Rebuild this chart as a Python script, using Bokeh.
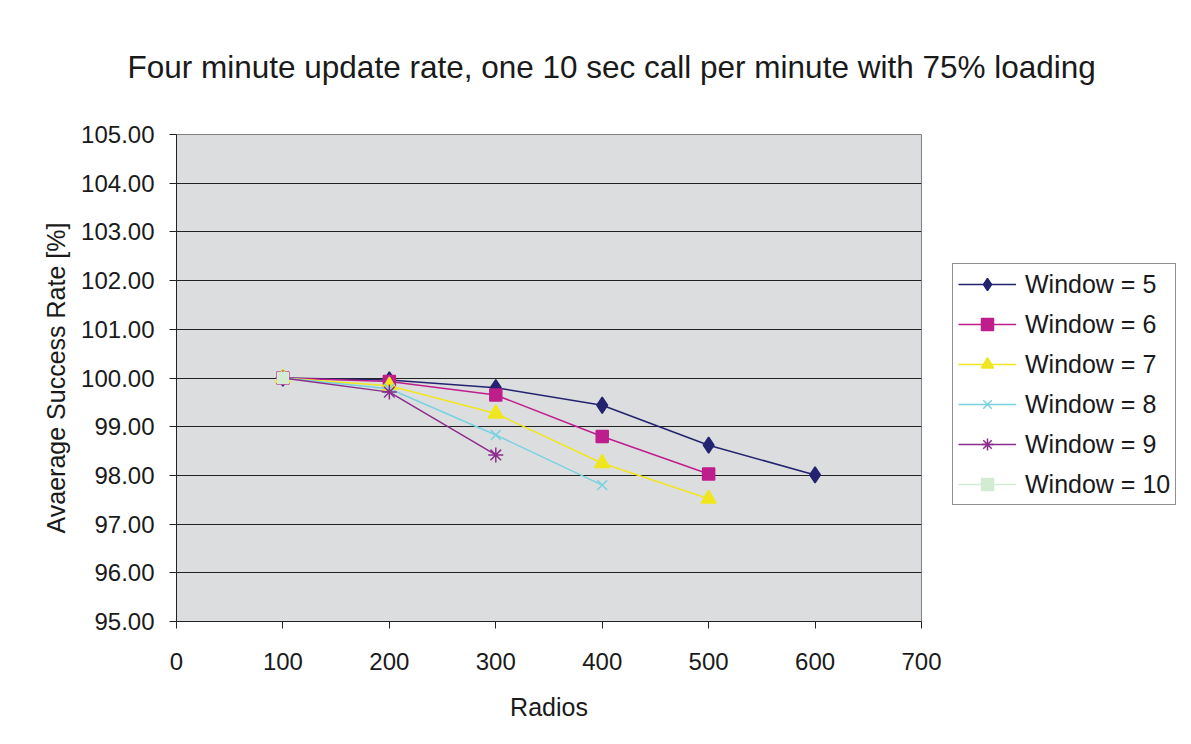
from bokeh.plotting import figure
from bokeh.embed import file_html
from bokeh.resources import INLINE
from bokeh.models import Legend, LegendItem, FixedTicker, NumeralTickFormatter, Range1d, Title
from bokeh.core.properties import value

radios = [100, 200, 300, 400, 500, 600]
window_5 = [100.00, 99.96, 99.80, 99.44, 98.62, 98.01]
window_6 = [100.00, 99.93, 99.65, 98.80, 98.03]
window_7 = [100.00, 99.84, 99.27, 98.25, 97.52]
window_8 = [100.00, 99.78, 98.83, 97.80]
window_9 = [100.00, 99.71, 98.42]
window_10 = [100.00]
series_names = ["Window = 5", "Window = 6", "Window = 7", "Window = 8", "Window = 9", "Window = 10"]
x_ticks = [0, 100, 200, 300, 400, 500, 600, 700]
y_ticks = [95, 96, 97, 98, 99, 100, 101, 102, 103, 104, 105]

FONT = "Liberation Sans"

p = figure(frame_width=745, frame_height=487, output_backend="svg", toolbar_location=None,
           x_range=Range1d(0, 700), y_range=Range1d(95, 105),
           min_border_left=176, min_border_right=0, min_border_top=134, min_border_bottom=115)

p.title = Title(text="Four minute update rate, one 10 sec call per minute with 75% loading",
                text_font=FONT, text_font_size="31.5px", text_font_style="normal",
                text_color="#1a1a1a", align="left", offset=-49, standoff=95,
                vertical_align="top")

p.background_fill_color = "#DCDDDF"
p.border_fill_color = "white"
p.outline_line_color = "#808080"
p.outline_line_width = 1

p.xgrid.grid_line_color = None
p.ygrid.grid_line_color = "#222222"
p.ygrid.grid_line_width = 1
p.ygrid.ticker = FixedTicker(ticks=y_ticks)

p.xaxis.ticker = FixedTicker(ticks=x_ticks)
p.yaxis.ticker = FixedTicker(ticks=y_ticks)
p.yaxis.formatter = NumeralTickFormatter(format="0.00")
for ax in (p.xaxis[0], p.yaxis[0]):
    ax.major_label_text_font = FONT
    ax.major_label_text_font_size = "24px"
    ax.major_label_text_color = "#1a1a1a"
    ax.axis_label_text_font = FONT
    ax.axis_label_text_font_size = "25px"
    ax.axis_label_text_font_style = "normal"
    ax.axis_label_text_color = "#1a1a1a"
    ax.axis_line_color = "#222222"
    ax.major_tick_line_color = "#222222"
    ax.major_tick_out = 7
    ax.major_tick_in = 0
    ax.minor_tick_line_color = None
p.xaxis.axis_label = "Radios"
p.yaxis.axis_label = "Avaerage Success Rate [%]"
p.xaxis.major_label_standoff = 24
p.xaxis.axis_label_standoff = 20
p.yaxis.major_label_standoff = 15
p.yaxis.axis_label_standoff = 8

colors = ["#232370", "#BE1E8C", "#F0E61E", "#78D2E0", "#8C2D8C", "#D2EBD2"]
markers = ["diamond", "square", "triangle", "x", "asterisk", "square"]
sizes = [16, 12, 15, 14, 15, 11]
data = [window_5, window_6, window_7, window_8, window_9, window_10]

items = []
for name, ys, c, m, s in zip(series_names, data, colors, markers, sizes):
    xs = radios[:len(ys)]
    r_line = p.line(xs, ys, line_color=c, line_width=1.5)
    r_mark = p.scatter(xs, ys, marker=m, size=s, fill_color=c, line_color=c, line_width=1.5)
    items.append(LegendItem(label=name, renderers=[r_line, r_mark]))

legend = Legend(items=items, location=(31, 116),
                label_text_font=FONT, label_text_font_size="25px", label_text_color="#1a1a1a",
                border_line_color="#222222", border_line_width=1,
                background_fill_color="white", background_fill_alpha=1,
                glyph_width=58, glyph_height=30, spacing=10, padding=5, margin=0,
                label_standoff=9, label_height=30)
p.add_layout(legend, "right")

open("out.html", "w").write(file_html(p, INLINE))
